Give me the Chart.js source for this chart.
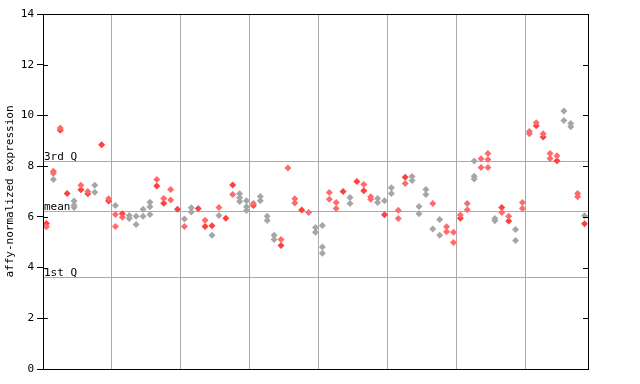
<!DOCTYPE html>
<html>
<head>
<meta charset="utf-8">
<script src="https://cdn.jsdelivr.net/npm/chart.js@4"></script>
<style>
  html, body { margin: 0; padding: 0; background: #fff; }
  #box { width: 640px; height: 384px; }
</style>
</head>
<body>
<div id="box"><canvas id="myChart" width="640" height="384"></canvas></div>
<script>
  // one entry per sample (79 samples, 8 groups of 10, last has 9)
  var filledVals = [5.74, null, 9.42, 6.92, null, 7.07, 6.91, null, 8.84, 6.63,
                    null, 6.12, null, null, null, null, 7.22, 6.54, null, 6.30,
                    null, null, 6.33, 5.62, 5.65, null, 5.95, 7.26, null, null,
                    6.45, null, null, null, 4.87, null, null, 6.27, null, null,
                    null, null, null, 7.00, null, 7.39, 7.03, null, null, 6.08,
                    null, null, 7.56, null, null, null, null, null, null, null,
                    5.95, null, null, null, null, null, 6.37, 5.84, null, null,
                    null, 9.59, 9.15, null, 8.21, null, null, null, 5.73];
  var redVals = [[5.61], [7.8, 7.72], [9.5], [], [], [7.25], [7.0], [], [], [6.71],
                 [6.09, 5.62], [5.98], [], [], [], [], [7.47], [6.72], [7.08, 6.66], [],
                 [5.62], [], [], [5.87], [], [6.37], [], [6.88], [], [],
                 [6.53], [], [], [], [5.11], [7.93], [6.71, 6.55], [], [6.17], [],
                 [], [6.96, 6.69], [6.57, 6.33], [], [], [], [7.28], [6.79, 6.69], [], [],
                 [], [6.26, 5.94], [7.32], [], [], [], [6.53], [], [5.61, 5.41], [5.39, 4.99],
                 [6.07], [6.53, 6.28], [], [8.29, 7.95], [8.50, 8.26, 7.95], [], [6.17], [6.02], [], [6.57, 6.33],
                 [9.37, 9.28], [9.71], [9.28], [8.50, 8.30], [8.41], [], [], [6.92, 6.79], []];
  var grayVals = [[], [7.47], [], [], [6.63, 6.46, 6.37], [], [], [7.25, 6.97], [], [],
                  [6.45], [], [6.05, 5.94], [6.02, 5.70], [6.30, 6.02], [6.58, 6.40, 6.09], [], [], [], [],
                  [5.92], [6.36, 6.19], [], [], [5.27], [6.05], [], [], [6.91, 6.75, 6.61], [6.64, 6.40, 6.25],
                  [], [6.80, 6.64], [6.02, 5.86], [5.27, 5.11], [], [], [], [], [], [5.58, 5.39],
                  [5.66, 4.81, 4.56], [], [], [], [6.76, 6.53], [], [], [], [6.72, 6.57], [6.64],
                  [7.15, 6.92], [], [], [7.59, 7.43], [6.41, 6.12], [7.08, 6.88], [5.52], [5.90, 5.27], [], [],
                  [], [], [8.20, 7.60, 7.49], [], [], [5.94, 5.85], [], [], [5.50, 5.07], [],
                  [], [], [], [], [], [10.17, 9.80], [9.68, 9.55], [], [6.04]];
  var groupBounds = [9.5, 19.5, 29.5, 39.5, 49.5, 59.5, 69.5];
  var yTicks = [0, 2, 4, 6, 8, 10, 12, 14];
  var refNames = ['3rd Q', 'mean', '1st Q'];
  var refVals = [8.22, 6.23, 3.61];

  function toPoints(lists) {
    var pts = [];
    lists.forEach(function (vals, i) {
      vals.forEach(function (v) { pts.push({x: i, y: v}); });
    });
    return pts;
  }
  var filledPts = [];
  filledVals.forEach(function (v, i) { if (v !== null) filledPts.push({x: i, y: v}); });

  var mono = '"DejaVu Sans Mono", "Liberation Mono", monospace';

  var framePlugin = {
    id: 'frame',
    beforeDatasetsDraw: function (chart) {
      var c = chart.ctx, a = chart.chartArea, y = chart.scales.y;
      c.save();
      c.strokeStyle = '#aaaaaa';
      c.lineWidth = 1;
      c.font = '11px ' + mono;
      c.fillStyle = '#000';
      c.textBaseline = 'bottom';
      refVals.forEach(function (v, i) {
        var py = Math.round(y.getPixelForValue(v)) + 0.5;
        c.beginPath();
        c.moveTo(a.left, py);
        c.lineTo(a.right, py);
        c.stroke();
        c.fillText(refNames[i], a.left + 1, py + 1);
      });
      c.restore();
    },
    afterDraw: function (chart) {
      var c = chart.ctx, a = chart.chartArea, y = chart.scales.y;
      c.save();
      c.strokeStyle = '#000';
      c.lineWidth = 1;
      c.strokeRect(Math.round(a.left) + 0.5, Math.round(a.top) + 0.5,
                   Math.round(a.right - a.left), Math.round(a.bottom - a.top));
      yTicks.forEach(function (v) {
        var py = Math.round(y.getPixelForValue(v)) + 0.5;
        c.beginPath();
        c.moveTo(a.left, py); c.lineTo(a.left + 5, py);
        c.moveTo(a.right, py); c.lineTo(a.right - 5, py);
        c.stroke();
      });
      c.restore();
    }
  };

  var ctx = document.getElementById('myChart').getContext('2d');
  var myChart = new Chart(ctx, {
    type: 'scatter',
    data: {
      datasets: [{
        label: 'gray',
        data: toPoints(grayVals),
        pointStyle: 'rectRot',
        pointRadius: 3.5,
        backgroundColor: '#a6a6a6',
        borderWidth: 0
      }, {
        label: 'red',
        data: toPoints(redVals),
        pointStyle: 'rectRot',
        pointRadius: 3.5,
        backgroundColor: '#ff6b6b',
        borderWidth: 0
      }, {
        label: 'filled',
        data: filledPts,
        pointStyle: 'rectRot',
        pointRadius: 3.5,
        backgroundColor: '#ff4040',
        borderWidth: 0
      }]
    },
    options: {
      responsive: false,
      animation: false,
      layout: { padding: { top: 14, right: 52, bottom: 15, left: 0 } },
      plugins: { legend: { display: false }, tooltip: { enabled: false } },
      scales: {
        x: {
          type: 'linear',
          min: -0.5,
          max: 78.5,
          afterBuildTicks: function (scale) {
            scale.ticks = groupBounds.map(function (v) { return {value: v}; });
          },
          afterFit: function (scale) { scale.height = 0; },
          ticks: { display: false },
          grid: { color: '#aaaaaa', drawTicks: false },
          border: { color: '#000' }
        },
        y: {
          min: 0,
          max: 14,
          afterBuildTicks: function (scale) {
            scale.ticks = yTicks.map(function (v) { return {value: v}; });
          },
          afterFit: function (scale) { scale.width = 43; },
          ticks: { color: '#000', padding: 3, font: { family: mono, size: 11 } },
          grid: { drawOnChartArea: false, tickLength: 6, color: '#000' },
          border: { color: '#000' },
          title: {
            display: true,
            text: 'affy-normalized expression',
            color: '#000',
            padding: { top: 4, bottom: 0 },
            font: { family: mono, size: 11 }
          }
        }
      }
    },
    plugins: [framePlugin]
  });
</script>
</body>
</html>
